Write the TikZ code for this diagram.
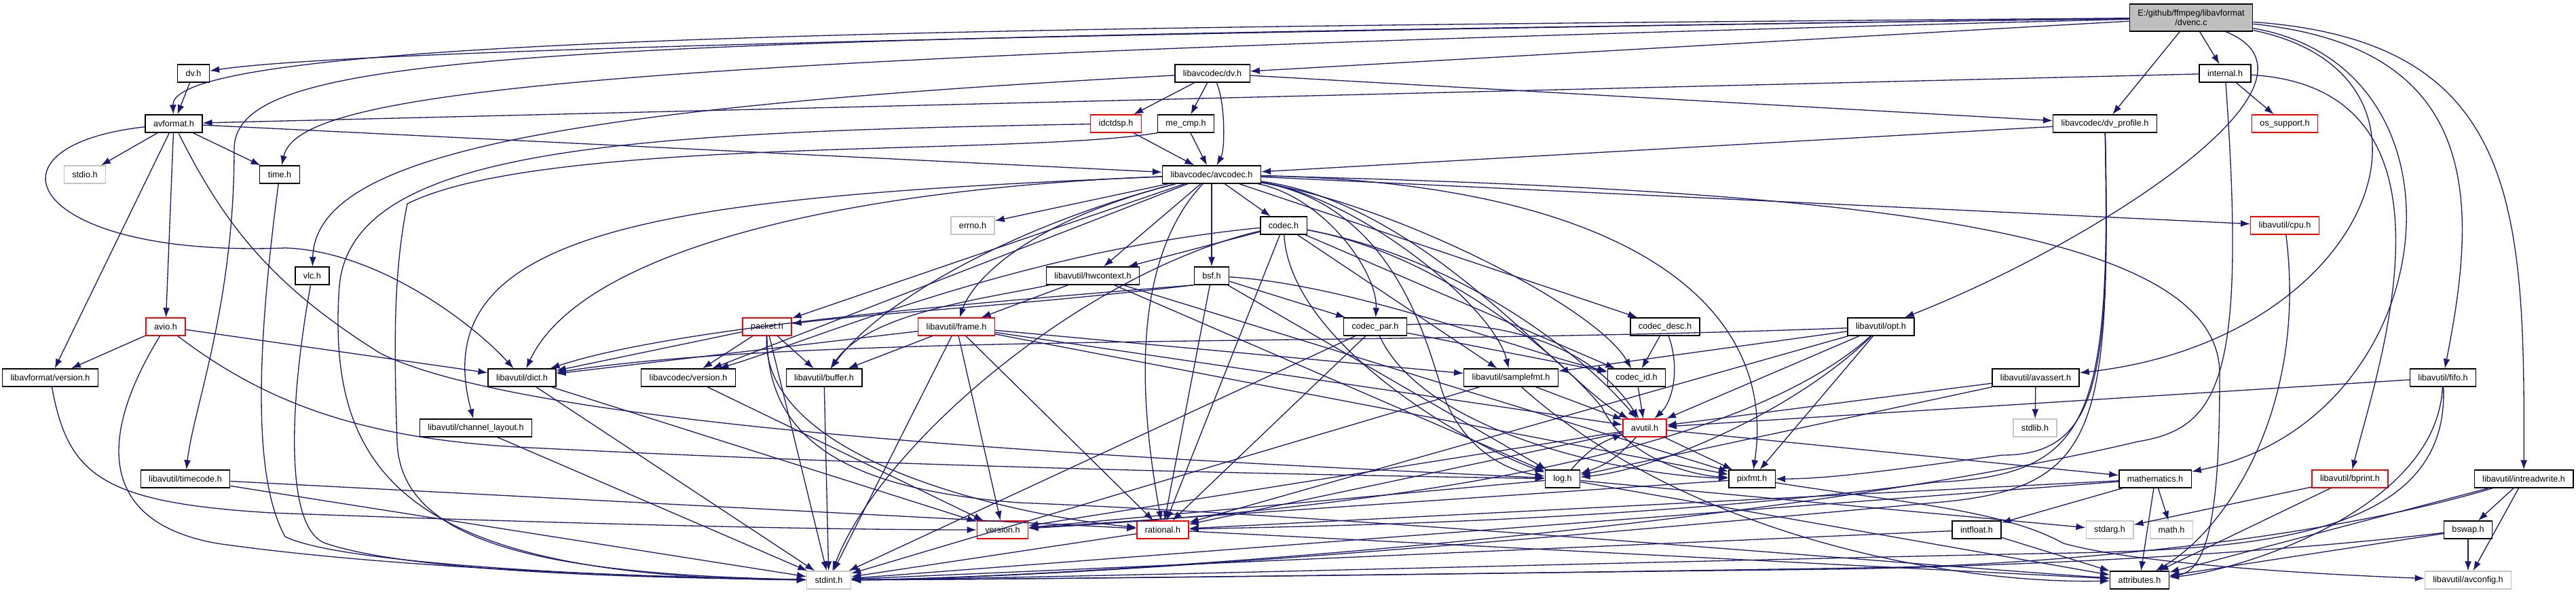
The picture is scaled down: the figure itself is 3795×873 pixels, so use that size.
\documentclass[tikz,border=0pt]{standalone}
\usepackage{fontspec}
\newfontfamily\filefont{Liberation Sans}
\usetikzlibrary{arrows.meta}
\definecolor{EdgeBlue}{RGB}{25,25,112}
\definecolor{MainGray}{RGB}{191,191,191}
\definecolor{SysGray}{RGB}{196,196,196}

\tikzset{
  file/.style={draw=black, line width=0.75pt, fill=white, minimum height=5.2mm,
    inner xsep=2.4mm, inner ysep=0pt, font=\filefont\fontsize{7.2}{8.6}\selectfont},
  truncfile/.style={file, draw=red},
  sysfile/.style={file, draw=SysGray},
  mainfile/.style={file, fill=MainGray, align=center, minimum height=8mm,
    font=\filefont\fontsize{7.2}{8.2}\selectfont},
  inc/.style={EdgeBlue, line width=0.75pt, -{Latex[length=2.8mm,width=2mm]}},
}

\begin{document}
\begin{tikzpicture}[x=0.2mm, y=-0.2mm]
  \useasboundingbox (0,0) rectangle (3795,873);
  \fill[white] (0,0) rectangle (3795,873);

  % files, one row of the include graph after the other
  \node[mainfile] (dvenc) at (3228,26) {E:/github/ffmpeg/libavformat\\/dvenc.c};

  \node[file] (dvh) at (285,108) {dv.h};
  \node[file] (lavcdv) at (1786,108) {libavcodec/dv.h};
  \node[file] (internal) at (3278,108) {internal.h};

  \node[file] (avformat) at (256,182) {avformat.h};
  \node[truncfile] (idctdsp) at (1644,182) {idctdsp.h};
  \node[file] (mecmp) at (1747,182) {me\_cmp.h};
  \node[file] (dvprofile) at (3101,182) {libavcodec/dv\_profile.h};
  \node[truncfile] (ossupport) at (3366,182) {os\_support.h};

  \node[sysfile] (stdio) at (125,257) {stdio.h};
  \node[file] (timeh) at (412,257) {time.h};
  \node[file] (avcodec) at (1785,257) {libavcodec/avcodec.h};

  \node[sysfile] (errno) at (1433,332) {errno.h};
  \node[file] (codec) at (1891,332) {codec.h};
  \node[truncfile] (cpu) at (3366,332) {libavutil/cpu.h};

  \node[file] (vlc) at (460,406) {vlc.h};
  \node[file] (hwcontext) at (1610,406) {libavutil/hwcontext.h};
  \node[file] (bsf) at (1785,406) {bsf.h};

  \node[truncfile] (avio) at (244,481) {avio.h};
  \node[truncfile] (packet) at (1130,481) {packet.h};
  \node[truncfile] (frame) at (1409,481) {libavutil/frame.h};
  \node[file] (codecpar) at (2026,481) {codec\_par.h};
  \node[file] (codecdesc) at (2453,481) {codec\_desc.h};
  \node[file] (opt) at (2771,481) {libavutil/opt.h};

  \node[file] (lavfversion) at (74,556) {libavformat/version.h};
  \node[file] (dict) at (769,556) {libavutil/dict.h};
  \node[file] (lavcversion) at (1014,556) {libavcodec/version.h};
  \node[file] (buffer) at (1214,556) {libavutil/buffer.h};
  \node[file] (samplefmt) at (2226,556) {libavutil/samplefmt.h};
  \node[file] (codecid) at (2411,556) {codec\_id.h};
  \node[file] (avassert) at (2999,556) {libavutil/avassert.h};
  \node[file] (fifo) at (3599,556) {libavutil/fifo.h};

  \node[file] (channellayout) at (701,630) {libavutil/channel\_layout.h};
  \node[truncfile] (avutil) at (2423,630) {avutil.h};
  \node[sysfile] (stdlib) at (2998,630) {stdlib.h};

  \node[file] (timecode) at (273,705) {libavutil/timecode.h};
  \node[file] (log) at (2302,705) {log.h};
  \node[file] (pixfmt) at (2581,705) {pixfmt.h};
  \node[file] (mathematics) at (3175,705) {mathematics.h};
  \node[truncfile] (bprint) at (3462,705) {libavutil/bprint.h};
  \node[file] (intreadwrite) at (3718,705) {libavutil/intreadwrite.h};

  \node[truncfile] (version) at (1477,780) {version.h};
  \node[truncfile] (rational) at (1713,780) {rational.h};
  \node[file] (intfloat) at (2912,780) {intfloat.h};
  \node[sysfile] (stdarg) at (3108,780) {stdarg.h};
  \node[sysfile] (math) at (3199,780) {math.h};
  \node[file] (bswap) at (3636,780) {bswap.h};

  \node[sysfile] (stdint) at (1221,854) {stdint.h};
  \node[file] (attributes) at (3152,854) {attributes.h};
  \node[sysfile] (avconfig) at (3636,854) {libavutil/avconfig.h};

  % includes that run straight
  \foreach \a/\b in {dvenc/lavcdv, dvenc/internal, dvenc/dvprofile,
      internal/avformat, internal/ossupport, dvh/avformat,
      lavcdv/idctdsp, lavcdv/mecmp, lavcdv/dvprofile,
      idctdsp/avcodec, mecmp/avcodec, dvprofile/avcodec,
      avformat/stdio, avformat/timeh, avformat/avio, avformat/lavfversion, avformat/avcodec,
      avio/lavfversion, avio/dict,
      avcodec/errno, avcodec/cpu, avcodec/hwcontext, avcodec/bsf, avcodec/codec,
      avcodec/codecdesc, avcodec/packet, avcodec/lavcversion,
      codec/hwcontext, codec/rational, codec/samplefmt, codec/codecid,
      bsf/log, bsf/rational, bsf/codecpar,
      hwcontext/frame, hwcontext/log, hwcontext/pixfmt,
      packet/stdint, packet/buffer, packet/dict, packet/lavcversion,
      frame/stdint, frame/avutil, frame/buffer, frame/dict, frame/rational,
      frame/samplefmt, frame/pixfmt, frame/version,
      dict/stdint, dict/version, channellayout/stdint,
      timecode/stdint, timecode/rational, lavcversion/version, buffer/stdint,
      samplefmt/stdint, samplefmt/avutil, codecid/avutil, codecdesc/codecid,
      codecpar/stdint, codecpar/rational, codecpar/codecid,
      opt/rational, opt/avutil, opt/pixfmt, opt/samplefmt,
      avassert/stdlib, avassert/avutil, avassert/log, fifo/avutil,
      intreadwrite/bswap, intreadwrite/avconfig, intreadwrite/attributes,
      bswap/avconfig, bswap/attributes,
      rational/stdint, rational/attributes,
      log/attributes, log/stdarg, log/version,
      avutil/rational, avutil/version, avutil/mathematics, avutil/pixfmt,
      pixfmt/version,
      mathematics/attributes, mathematics/math, mathematics/intfloat,
      mathematics/rational, mathematics/stdint,
      intfloat/stdint, intfloat/attributes, bprint/stdarg, bprint/attributes}
    \draw[inc] (\a) -- (\b);

  % includes routed round other files
  \draw[inc] (dvenc) .. controls (1500,40) and (250,50) .. (avformat);
  \draw[inc] (dvenc) .. controls (1500,50) and (500,75) .. (dvh);
  \draw[inc] (dvenc) .. controls (800,60) and (345,70) .. (345,220)
    .. controls (345,450) and (285,600) .. (timecode);
  \draw[inc] (dvenc) .. controls (900,85) and (440,130) .. (timeh);
  \draw[inc] (dvenc) .. controls (3460,120) and (3080,360) .. (opt);
  \draw[inc] (dvenc) .. controls (3640,110) and (3500,500) .. (avassert);
  \draw[inc] (dvenc) .. controls (3660,100) and (3600,620) .. (mathematics);
  \draw[inc] (dvenc) .. controls (3660,70) and (3650,300) .. (fifo);
  \draw[inc] (dvenc) .. controls (3710,60) and (3720,300) .. (intreadwrite);

  \draw[inc] (internal) .. controls (3310,560) and (3270,630) .. (3150,650)
    .. controls (2600,780) and (1600,850) .. (stdint);
  \draw[inc] (internal) .. controls (3650,130) and (3500,550) .. (bprint);

  \draw[inc] (lavcdv) .. controls (1805,150) and (1805,220) .. (avcodec);
  \draw[inc] (lavcdv) .. controls (800,160) and (465,230) .. (vlc);

  \draw[inc] (avformat) .. controls (-40,215) and (40,380) .. (420,365)
    .. controls (560,370) and (700,480) .. (dict);
  \draw[inc] (avformat) .. controls (330,330) and (400,420) .. (560,520)
    .. controls (800,640) and (1800,680) .. (log);

  \draw[inc] (avio) .. controls (140,650) and (150,770) .. (320,800)
    .. controls (600,840) and (1000,850) .. (stdint);
  \draw[inc] (avio) .. controls (400,600) and (550,650) .. (800,660)
    .. controls (1400,690) and (2000,700) .. (log);
  \draw[inc] (timeh) .. controls (380,500) and (370,700) .. (420,790)
    .. controls (500,830) and (900,850) .. (stdint);
  \draw[inc] (vlc) .. controls (425,600) and (420,780) .. (480,800)
    .. controls (600,840) and (900,850) .. (stdint);
  \draw[inc] (mecmp.south west) .. controls (1500,230) and (800,200) .. (600,300)
    .. controls (580,400) and (580,500) .. (585,650)
    .. controls (590,800) and (800,845) .. (stdint);
  \draw[inc] (idctdsp) .. controls (900,195) and (520,220) .. (500,420)
    .. controls (480,700) and (600,850) .. (stdint);
  \draw[inc] (lavfversion) .. controls (100,700) and (150,740) .. (400,755)
    .. controls (800,770) and (1200,780) .. (version);

  \draw[inc] (avcodec) .. controls (2700,280) and (3270,330) .. (3270,550)
    .. controls (3270,720) and (3260,840) .. (attributes);
  \draw[inc] (avcodec) .. controls (1000,290) and (620,330) .. (channellayout);
  \draw[inc] (avcodec) .. controls (1200,280) and (850,380) .. (dict);
  \draw[inc] (avcodec) .. controls (2050,300) and (2100,500) .. (2120,560)
    .. controls (2140,640) and (2200,690) .. (log);
  \draw[inc] (avcodec) .. controls (1650,400) and (1690,650) .. (rational);
  \draw[inc] (avcodec) .. controls (1500,330) and (1300,440) .. (buffer);
  \draw[inc] (avcodec) .. controls (1500,330) and (1430,420) .. (frame);
  \draw[inc] (avcodec) .. controls (1950,290) and (2030,400) .. (codecpar);
  \draw[inc] (avcodec) .. controls (2050,300) and (2350,450) .. (codecid);
  \draw[inc] (avcodec) .. controls (2000,290) and (2200,450) .. (samplefmt);
  \draw[inc] (avcodec) .. controls (2100,300) and (2300,560) .. (avutil);
  \draw[inc] (avcodec) .. controls (2400,270) and (2620,450) .. (pixfmt);

  \draw[inc] (codec) .. controls (1600,400) and (1300,650) .. (stdint);
  \draw[inc] (codec) .. controls (1900,500) and (2150,650) .. (log);
  \draw[inc] (codec) .. controls (1500,370) and (1200,500) .. (lavcversion);
  \draw[inc] (codec) .. controls (2150,380) and (2330,520) .. (avutil);
  \draw[inc] (codec) .. controls (2150,380) and (2330,560) .. (2360,600)
    .. controls (2400,680) and (2500,700) .. (pixfmt);

  \draw[inc] (bsf.south west) .. controls (1450,445) and (1000,480) .. (dict);
  \draw[inc] (bsf.south west) .. controls (1500,450) and (1300,460) .. (packet);
  \draw[inc] (bsf) .. controls (2000,420) and (2250,520) .. (codecid);
  \draw[inc] (hwcontext) .. controls (1450,440) and (1280,460) .. (buffer);

  \draw[inc] (packet) .. controls (1130,650) and (1250,720) .. (1500,740)
    .. controls (2000,760) and (2800,830) .. (attributes);
  \draw[inc] (packet) .. controls (1120,680) and (1500,760) .. (rational);
  \draw[inc] (samplefmt) .. controls (2500,800) and (2900,860) .. (attributes);
  \draw[inc] (codecpar) .. controls (2100,640) and (2400,700) .. (pixfmt);
  \draw[inc] (codecpar) .. controls (2200,470) and (2340,500) .. (avutil);
  \draw[inc] (codecdesc) .. controls (2475,540) and (2465,590) .. (avutil);

  \draw[inc] (opt) .. controls (2000,510) and (1200,490) .. (dict);
  \draw[inc] (opt) .. controls (2650,600) and (2450,690) .. (log);
  \draw[inc] (opt) .. controls (2550,680) and (2000,750) .. (version);

  \draw[inc] (fifo) .. controls (3610,800) and (3300,810) .. (3000,815)
    .. controls (2300,830) and (1600,850) .. (stdint);
  \draw[inc] (fifo) .. controls (3590,750) and (3300,840) .. (attributes);
  \draw[inc] (intreadwrite) .. controls (3400,800) and (3000,830) .. (2800,835)
    .. controls (2200,845) and (1600,852) .. (stdint);
  \draw[inc] (bswap) .. controls (3300,820) and (2900,835) .. (2700,838)
    .. controls (2100,845) and (1600,852) .. (stdint);
  \draw[inc] (cpu) .. controls (3400,600) and (3280,780) .. (attributes);
  \draw[inc] (pixfmt) .. controls (2800,740) and (2950,750) .. (3040,800)
    .. controls (3150,830) and (3400,845) .. (avconfig);

  \draw[inc] (dvprofile) .. controls (3110,560) and (3090,670) .. (2950,670)
    .. controls (2800,690) and (2700,705) .. (pixfmt);
  \draw[inc] (dvprofile) .. controls (3110,620) and (3080,700) .. (2850,710)
    .. controls (2400,770) and (1900,775) .. (rational);
  \draw[inc] (dvprofile) .. controls (3110,640) and (3090,720) .. (2850,740)
    .. controls (2200,800) and (1600,850) .. (stdint);

  \draw[inc] (log) to[bend left=15] (avutil);
  \draw[inc] (avutil) to[bend left=15] (log);
\end{tikzpicture}
\end{document}
